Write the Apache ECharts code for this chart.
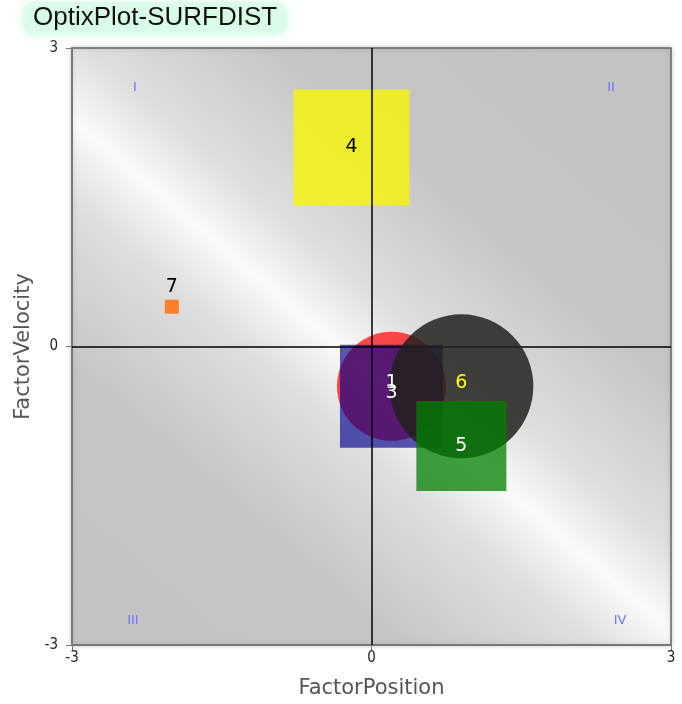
<!DOCTYPE html>
<html>
<head>
<meta charset="utf-8">
<script src="https://cdn.jsdelivr.net/npm/echarts@6/dist/echarts.min.js"></script>
<style>
  html, body { margin: 0; padding: 0; background: #fff; }
  #chart { width: 682px; height: 704px; }
</style>
</head>
<body>
<div id="chart"></div>
<script>
// points, in the order they are painted
const ids = ['1', '3', '4', '6', '5', '7'];
const factorPosition = [0.2, 0.2, -0.2, 0.9, 0.9, -2.0];
const factorVelocity = [-0.4, -0.5, 2.0, -0.4, -1.0, 0.4];
const magnitude = [109, 103, 116, 144, 90, 14];
const shapes = ['circle', 'rect', 'rect', 'circle', 'rect', 'rect'];

const quadrantNames = ['I', 'II', 'III', 'IV'];
const quadrantX = [-2.37, 2.4, -2.39, 2.49];
const quadrantY = [2.6, 2.6, -2.75, -2.75];

// styles
const fills = ['rgba(255,0,0,0.7)', 'rgba(0,0,140,0.65)', 'rgba(245,245,10,0.82)',
  'rgba(33,33,28,0.85)', 'rgba(0,128,0,0.75)', '#ff7f2a'];
const labelColors = ['#fff', '#fff', '#000', '#ffff10', '#fff', '#000'];

const chart = echarts.init(document.getElementById('chart'));

const series = [{
  type: 'line',
  data: [],
  z: 1,
  silent: true,
  markLine: {
    silent: true,
    symbol: 'none',
    label: { show: false },
    lineStyle: { color: '#000', width: 1.5, type: 'solid' },
    data: [{ xAxis: 0 }, { yAxis: 0 }]
  }
}];

// marks
ids.forEach(function (id, i) {
  series.push({
    type: 'scatter',
    z: 2 + i,
    symbol: shapes[i],
    symbolSize: magnitude[i],
    itemStyle: { color: fills[i], opacity: 1 },
    data: [[factorPosition[i], factorVelocity[i]]]
  });
});

// number labels over every mark
series.push({
  type: 'scatter',
  z: 20,
  silent: true,
  symbolSize: function (v, p) { return magnitude[p.dataIndex]; },
  itemStyle: { color: 'rgba(0,0,0,0)', opacity: 1 },
  label: {
    show: true,
    opacity: 1,
    position: 'inside',
    fontFamily: 'DejaVu Sans',
    fontSize: 19,
    formatter: function (p) { return ids[p.dataIndex]; }
  },
  data: ids.map(function (id, i) {
    const item = {
      value: [factorPosition[i], factorVelocity[i]],
      label: { color: labelColors[i] }
    };
    if (id === '1' || id === '3' || id === '6') item.label.offset = [0, -3];
    if (id === '7') { item.label.position = 'top'; item.label.distance = 3; }
    return item;
  })
});

series.push({
  type: 'scatter',
  z: 1,
  silent: true,
  symbolSize: 0,
  itemStyle: { opacity: 1 },
  label: {
    show: true,
    opacity: 1,
    position: 'inside',
    formatter: function (p) { return quadrantNames[p.dataIndex]; },
    color: '#7373ff',
    fontFamily: 'DejaVu Sans',
    fontSize: 13
  },
  data: quadrantX.map(function (x, i) { return [x, quadrantY[i]]; })
});

const axisCommon = {
  type: 'value',
  min: -3,
  max: 3,
  interval: 3,
  nameLocation: 'middle',
  nameTextStyle: { fontFamily: 'DejaVu Sans', fontSize: 21, color: '#555' },
  axisLine: { show: true, onZero: false, lineStyle: { color: '#777', width: 2 } },
  axisTick: { show: true, length: 6, lineStyle: { color: '#777' } },
  axisLabel: { fontFamily: 'DejaVu Sans Condensed', fontSize: 15, color: '#222' },
  splitLine: { show: false }
};

chart.setOption({
  animation: false,
  title: {
    text: 'OptixPlot-SURFDIST',
    left: 23,
    top: 2,
    padding: [3, 10, 4, 10],
    backgroundColor: 'rgba(215,252,230,0.7)',
    borderRadius: 10,
    shadowBlur: 12,
    shadowColor: 'rgba(200,248,222,0.95)',
    textStyle: { fontFamily: 'Liberation Sans', fontSize: 26, fontWeight: 'normal', color: '#111' }
  },
  grid: {
    left: 72,
    right: 11,
    top: 48,
    bottom: 56,
    show: true,
    borderColor: '#666',
    borderWidth: 1.5,
    shadowBlur: 5,
    shadowColor: 'rgba(0,0,0,0.2)',
    backgroundColor: new echarts.graphic.LinearGradient(0, 1, 0.85, 0, [
      { offset: 0, color: '#c3c3c3' },
      { offset: 0.27, color: '#c5c5c5' },
      { offset: 0.43, color: '#dedede' },
      { offset: 0.51, color: '#fafafa' },
      { offset: 0.59, color: '#dedede' },
      { offset: 0.75, color: '#c5c5c5' },
      { offset: 1, color: '#c3c3c3' }
    ])
  },
  xAxis: Object.assign({}, axisCommon, {
    name: 'FactorPosition',
    nameGap: 33,
    axisLabel: Object.assign({}, axisCommon.axisLabel, { margin: 6 })
  }),
  yAxis: Object.assign({}, axisCommon, {
    name: 'FactorVelocity',
    nameGap: 36,
    axisLabel: Object.assign({}, axisCommon.axisLabel, { margin: 14 })
  }),
  series: series
});
</script>
</body>
</html>
